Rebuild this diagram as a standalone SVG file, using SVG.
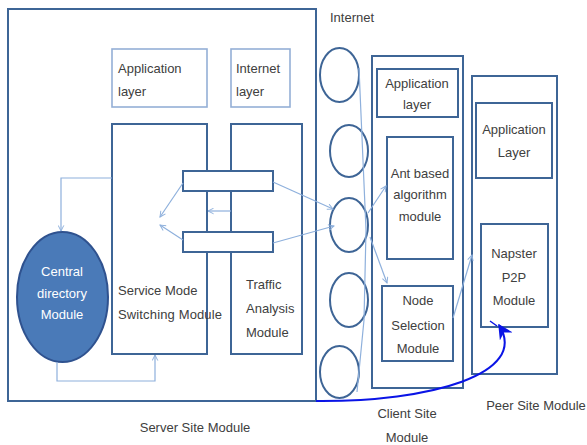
<svg xmlns="http://www.w3.org/2000/svg" width="587" height="445" viewBox="0 0 587 445">
<style>
.box{fill:#fff;stroke:#3e6596;stroke-width:2}
.lbox{fill:#fff;stroke:#94afd6;stroke-width:1.6}
.circ{fill:#fff;stroke:#3e6596;stroke-width:2}
.t{font-family:"Liberation Sans",Arial,sans-serif;font-size:13px;fill:#404040}
.w{fill:#fff}
.c{text-anchor:middle}
.con{fill:none;stroke:#8eb0dc;stroke-width:1.2}
</style>
<defs>
<marker id="a" viewBox="0 0 10 10" refX="9" refY="5" markerWidth="7" markerHeight="7" orient="auto-start-reverse" markerUnits="userSpaceOnUse">
<path d="M1,1 L9,5 L1,9" fill="none" stroke="#8eb0dc" stroke-width="1.4"/>
</marker>
<marker id="b" viewBox="0 0 10 10" refX="9" refY="5" markerWidth="15" markerHeight="15" orient="auto" markerUnits="userSpaceOnUse">
<path d="M0,0 L10,5 L0,10 L3,5 Z" fill="#0a14e6"/>
</marker>
</defs>
<rect width="587" height="445" fill="#fff"/>

<g id="server">
<rect class="box" x="8" y="9" width="308" height="392"/>
<text class="t c" x="195" y="432" font-size="14">Server Site Module</text>
</g>
<g id="server-app-layer">
<rect class="lbox" x="112" y="49" width="95" height="58"/>
<text class="t" x="118" y="73" font-size="14">Application</text>
<text class="t" x="118" y="96" font-size="14">layer</text>
</g>
<g id="server-internet-layer">
<rect class="lbox" x="231" y="49" width="59" height="58"/>
<text class="t" x="236" y="73" font-size="14">Internet</text>
<text class="t" x="236" y="96" font-size="14">layer</text>
</g>
<g id="service-mode">
<rect class="box" x="112" y="124" width="95" height="230"/>
<text class="t" x="118" y="295" font-size="14">Service Mode</text>
<text class="t" x="118" y="319" font-size="14" textLength="104">Switching Module</text>
</g>
<g id="traffic">
<rect class="box" x="231" y="124" width="71" height="230"/>
<text class="t" x="246" y="289" font-size="14">Traffic</text>
<text class="t" x="246" y="313" font-size="14">Analysis</text>
<text class="t" x="246" y="337" font-size="14">Module</text>
</g>
<g id="bar-top">
<rect class="box" x="183" y="171" width="90" height="20"/>
</g>
<g id="bar-bottom">
<rect class="box" x="183" y="232" width="90" height="20"/>
</g>
<g id="central-directory">
<ellipse cx="62.5" cy="297" rx="45.5" ry="65" fill="#4a7ab8" stroke="#2f528f" stroke-width="2"/>
<text class="t c w" x="62" y="276" font-size="12">Central</text>
<text class="t c w" x="62" y="298" font-size="12">directory</text>
<text class="t c w" x="62" y="319" font-size="12">Module</text>
</g>

<g id="internet">
<text class="t" x="330" y="22" font-size="14">Internet</text>
<ellipse class="circ" cx="339.5" cy="75" rx="19.5" ry="27"/>
<ellipse class="circ" cx="349" cy="151" rx="19" ry="26"/>
<ellipse class="circ" cx="349" cy="225" rx="19" ry="27"/>
<ellipse class="circ" cx="349" cy="300" rx="19" ry="27"/>
<ellipse class="circ" cx="339.5" cy="372" rx="19.5" ry="26"/>
</g>

<g id="client">
<rect class="box" x="372" y="56" width="91" height="332"/>
<text class="t c" x="407" y="418" font-size="14">Client Site</text>
<text class="t c" x="407" y="442" font-size="14">Module</text>
</g>
<g id="client-app-layer">
<rect class="box" x="377" y="69" width="81" height="48" stroke-width="2.4"/>
<text class="t c" x="417" y="88" font-size="11.5">Application</text>
<text class="t c" x="417" y="109" font-size="11.5">layer</text>
</g>
<g id="ant">
<rect class="box" x="387" y="137" width="66" height="122"/>
<text class="t c" x="420" y="178" font-size="12">Ant based</text>
<text class="t c" x="420" y="199" font-size="12">algorithm</text>
<text class="t c" x="420" y="221" font-size="12">module</text>
</g>
<g id="node-selection">
<rect class="box" x="382" y="286" width="71" height="75"/>
<text class="t c" x="418" y="305" font-size="14">Node</text>
<text class="t c" x="418" y="330" font-size="14">Selection</text>
<text class="t c" x="418" y="353" font-size="14">Module</text>
</g>

<g id="peer">
<rect class="box" x="472" y="76" width="85" height="298"/>
<text class="t c" x="536" y="410" font-size="14">Peer Site Module</text>
</g>
<g id="peer-app-layer">
<rect class="box" x="476" y="103" width="76" height="75"/>
<text class="t c" x="514" y="134" font-size="11.5">Application</text>
<text class="t c" x="514" y="157" font-size="11.5">Layer</text>
</g>
<g id="napster">
<rect class="box" x="481" y="224" width="67" height="103"/>
<text class="t c" x="514" y="258" font-size="14">Napster</text>
<text class="t c" x="514" y="282" font-size="14">P2P</text>
<text class="t c" x="514" y="305" font-size="14">Module</text>
</g>

<g id="connectors">
<polyline class="con" points="112,178 61,178 61,231" marker-end="url(#a)"/>
<polyline class="con" points="57,362 57,381 155,381 155,355" marker-end="url(#a)"/>
<line class="con" x1="183" y1="183" x2="160" y2="217" marker-end="url(#a)"/>
<line class="con" x1="183" y1="240" x2="160" y2="225" marker-end="url(#a)"/>
<line class="con" x1="231" y1="211" x2="208" y2="211" marker-end="url(#a)"/>
<line class="con" x1="273" y1="182" x2="333" y2="209" marker-end="url(#a)"/>
<line class="con" x1="273" y1="243" x2="334" y2="226" marker-end="url(#a)"/>
<line class="con" x1="368" y1="213" x2="386" y2="186" marker-end="url(#a)"/>
<line class="con" x1="370" y1="237" x2="387" y2="283" marker-end="url(#a)"/>
<line class="con" x1="453" y1="318" x2="472" y2="255" marker-end="url(#a)"/>
<polyline class="con" points="359,68 366,230 364,320 357,392" stroke-width="1"/>
<path d="M316,401 C430,402 530,374 499,325" fill="none" stroke="#0a14e6" stroke-width="2" marker-end="url(#b)"/>
<line x1="490" y1="321" x2="497" y2="326" stroke="#0a14e6" stroke-width="1.5"/>
</g>
</svg>
